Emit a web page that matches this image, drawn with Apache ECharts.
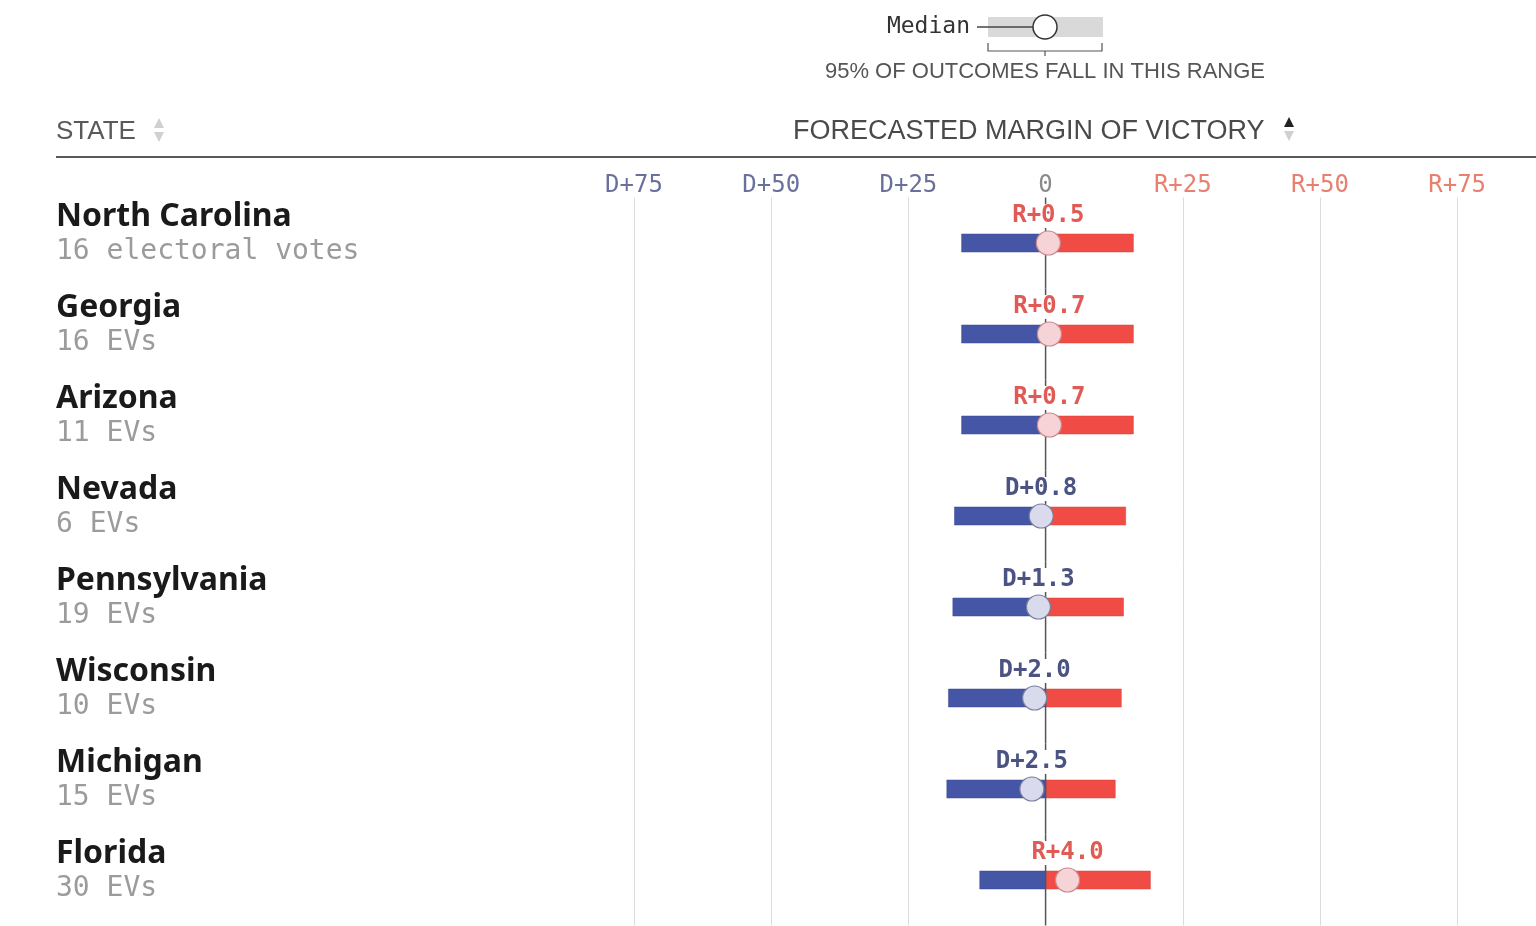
<!DOCTYPE html>
<html>
<head>
<meta charset="utf-8">
<script src="https://cdn.jsdelivr.net/npm/echarts@6/dist/echarts.min.js"></script>
<style>
html,body{margin:0;padding:0;background:#fff;}
#chart{width:1536px;height:926px;}
</style>
</head>
<body>
<div id="chart"></div>
<script>
const states = ['North Carolina','Georgia','Arizona','Nevada','Pennsylvania','Wisconsin','Michigan','Florida'];
const evLabels = ['16 electoral votes','16 EVs','11 EVs','6 EVs','19 EVs','10 EVs','15 EVs','30 EVs'];
const lowValues = [-15.3,-15.3,-15.3,-16.6,-16.9,-17.7,-18.0,-12.0];
const highValues = [16.0,16.0,16.0,14.6,14.2,13.8,12.7,19.1];
const medianValues = [0.5,0.7,0.7,-0.8,-1.3,-2.0,-2.5,4.0];
const gridTicks = [-75,-50,-25,25,50,75];

const MONO = '"DejaVu Sans Mono", "Liberation Mono", monospace';
const SANS = '"Liberation Sans", Arial, sans-serif';

const chart = echarts.init(document.getElementById('chart'));

function fmtTick(v){
  v = Number(v);
  if (v === 0) return '0';
  return v < 0 ? 'D+' + (-v) : 'R+' + v;
}
function tickColor(v){
  v = Number(v);
  if (v === 0) return '#8a8a8a';
  return v < 0 ? '#69709c' : '#e8806f';
}

const seriesData = states.map((s, i) => [i, lowValues[i], highValues[i], medianValues[i]]);

const option = {
  animation: false,
  grid: { left: 634, right: 2, top: 197.5, bottom: 0.5, containLabel: false },
  xAxis: {
    type: 'value',
    position: 'top',
    min: -75,
    max: 89,
    interval: 25,
    axisLine: { show: false },
    axisTick: { show: false },
    splitLine: { show: false },
    axisLabel: {
      showMaxLabel: false,
      margin: 0,
      fontFamily: MONO,
      fontSize: 24,
      formatter: fmtTick,
      color: tickColor
    }
  },
  yAxis: {
    type: 'category',
    inverse: true,
    data: states,
    axisLine: { show: false },
    axisTick: { show: false },
    splitLine: { show: false },
    axisLabel: {
      align: 'left',
      margin: 578,
      padding: [0, 0, 17, 0],
      formatter: (value, index) => '{n|' + value + '}\n{e|' + evLabels[index] + '}',
      rich: {
        n: { fontFamily: '"Noto Sans", sans-serif', fontWeight: 'bold', fontSize: 32, color: '#1a1a1a', lineHeight: 35 },
        e: { fontFamily: MONO, fontSize: 28, color: '#9b9b9b', lineHeight: 35 }
      }
    }
  },
  series: [
    {
      type: 'line',
      data: [],
      z: 1,
      markLine: {
        silent: true,
        symbol: 'none',
        label: { show: false },
        lineStyle: { color: '#dcdcdc', type: 'solid', width: 1 },
        data: gridTicks.map(v => ({ xAxis: v }))
      }
    },
    {
      type: 'custom',
      z: 10,
      data: seriesData,
      encode: { x: [1, 2, 3], y: 0 },
      renderItem: function (params, api) {
        const i = api.value(0), lo = api.value(1), hi = api.value(2), med = api.value(3);
        const pLo = api.coord([lo, i]);
        const pHi = api.coord([hi, i]);
        const p0 = api.coord([0, i]);
        const pM = api.coord([med, i]);
        const band = api.size([0, 1])[1];
        const cy = p0[1];
        const h = 18;
        const isR = med > 0;
        const label = (isR ? 'R+' : 'D+') + Math.abs(med).toFixed(1);
        return {
          type: 'group',
          children: [
            { type: 'rect', shape: { x: pLo[0], y: cy - h / 2, width: p0[0] - pLo[0], height: h },
              style: { fill: '#4656a6', stroke: '#3a4890', lineWidth: 0.5 } },
            { type: 'rect', shape: { x: p0[0], y: cy - h / 2, width: pHi[0] - p0[0], height: h },
              style: { fill: '#f04c45', stroke: '#d84038', lineWidth: 0.5 } },
            { type: 'line', shape: { x1: p0[0], y1: cy - band / 2, x2: p0[0], y2: cy + band / 2 },
              style: { stroke: '#555', lineWidth: 1.5 } },
            { type: 'circle', shape: { cx: pM[0], cy: cy, r: 12 },
              style: { fill: isR ? '#f6d3d6' : '#d9dbec', stroke: isR ? '#c98a8c' : '#7a7f9e', lineWidth: 1.2 } },
            { type: 'text', x: pM[0], y: cy - 27,
              style: { text: label, fill: isR ? '#e05b55' : '#4b5382', font: 'bold 24px ' + MONO,
                       align: 'center', verticalAlign: 'middle',
                       backgroundColor: '#fff', padding: [0, 1, 0, 1] } }
          ]
        };
      }
    }
  ],
  graphic: [
    // header
    { type: 'text', left: 56, top: 119, style: { text: 'STATE', font: '26px ' + SANS, fill: '#5a5a5a' } },
    { type: 'polygon', shape: { points: [[159, 118], [154, 128], [164, 128]] }, style: { fill: '#d0d0d0' } },
    { type: 'polygon', shape: { points: [[154, 132], [164, 132], [159, 142]] }, style: { fill: '#d0d0d0' } },
    { type: 'text', left: 793, top: 118, style: { text: 'FORECASTED MARGIN OF VICTORY', font: '27px ' + SANS, fill: '#4a4a4a' } },
    { type: 'polygon', shape: { points: [[1289, 117], [1284, 127], [1294, 127]] }, style: { fill: '#222' } },
    { type: 'polygon', shape: { points: [[1284, 131], [1294, 131], [1289, 141]] }, style: { fill: '#d0d0d0' } },
    { type: 'line', shape: { x1: 56, y1: 157, x2: 1536, y2: 157 }, style: { stroke: '#5a5a5a', lineWidth: 2 } },
    // legend
    { type: 'text', x: 970, y: 27, style: { text: 'Median', font: '23px ' + MONO, fill: '#333', align: 'right', verticalAlign: 'middle' } },
    { type: 'rect', shape: { x: 988, y: 17, width: 115, height: 20 }, style: { fill: '#d9d9d9' } },
    { type: 'line', shape: { x1: 977, y1: 27, x2: 1040, y2: 27 }, style: { stroke: '#444', lineWidth: 1.5 } },
    { type: 'circle', shape: { cx: 1045, cy: 27, r: 12 }, style: { fill: '#fff', stroke: '#333', lineWidth: 1.5 } },
    { type: 'polyline', shape: { points: [[988, 43], [988, 51], [1102, 51], [1102, 43]] }, style: { stroke: '#555', lineWidth: 1.2, fill: null } },
    { type: 'line', shape: { x1: 1045, y1: 51, x2: 1045, y2: 56 }, style: { stroke: '#555', lineWidth: 1.2 } },
    { type: 'text', x: 1045, y: 72, style: { text: '95% OF OUTCOMES FALL IN THIS RANGE', font: '22px ' + SANS, fill: '#555', align: 'center', verticalAlign: 'middle' } }
  ]
};
chart.setOption(option);
</script>
</body>
</html>
